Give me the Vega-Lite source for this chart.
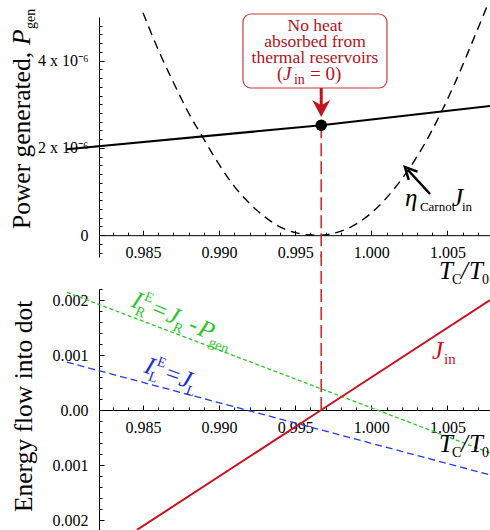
{
 "$schema": "https://vega.github.io/schema/vega-lite/v6.json",
 "padding": {"left": 10, "top": 0, "right": 0, "bottom": 0},
 "background": "white",
 "bounds": "flush",
 "spacing": 32,
 "config": {"view": {"stroke": null}, "text": {"font": "Liberation Serif"}, "axis": {"labelFont": "Liberation Serif", "labelFontSize": 16, "labelColor": "black", "domainColor": "black", "tickColor": "black", "domainWidth": 1, "tickWidth": 1, "grid": false, "labelFlush": false, "labelOverlap": false}},
 "vconcat": [
 {
  "width": 391, "height": 240,
  "encoding": {
   "x": {"field": "x", "type": "quantitative", "scale": {"domain": [0.98211, 1.0078], "nice": false, "zero": false}, "axis": null},
   "y": {"field": "y", "type": "quantitative", "scale": {"domain": [-5e-7, 5e-6], "nice": false, "zero": false}, "axis": null}
  },
  "resolve": {"axis": {"x": "independent", "y": "independent"}},
  "layer": [
   {
    "data": {"values": [{"x": 0.980, "y": 1.97e-6}, {"x": 0.99671, "y": 2.52e-6}, {"x": 1.0078, "y": 2.96e-6}]},
    "mark": {"type": "line", "color": "black", "strokeWidth": 2},
    "encoding": {
     "x": {"field": "x", "type": "quantitative", "scale": {"domain": [0.98211, 1.0078], "nice": false, "zero": false}, "axis": {"orient": "bottom", "offset": -21.82, "values": [0.985, 0.99, 0.995, 1, 1.005], "format": ".3f", "tickSize": -5, "labelPadding": 14, "title": null}},
     "y": {"field": "y", "type": "quantitative", "scale": {"domain": [-5e-7, 5e-6], "nice": false, "zero": false}, "axis": {"orient": "left", "values": [0, 2e-6, 4e-6], "labelExpr": "datum.value == 0 ? '0' : format(datum.value*1e6, 'd') + ' x 10⁻⁶'", "tickSize": -5, "labelPadding": 16, "title": null}}
    }
   },
   {
    "data": {"values": [
     {"x": 0.9850, "y": 5.10e-6}, {"x": 0.9860, "y": 4.25e-6}, {"x": 0.9870, "y": 3.50e-6}, {"x": 0.9880, "y": 2.80e-6},
     {"x": 0.9890, "y": 2.20e-6}, {"x": 0.9900, "y": 1.62e-6}, {"x": 0.9910, "y": 1.12e-6}, {"x": 0.9920, "y": 0.73e-6},
     {"x": 0.9930, "y": 0.42e-6}, {"x": 0.9940, "y": 0.19e-6}, {"x": 0.9950, "y": 0.06e-6}, {"x": 0.9958, "y": 0.01e-6},
     {"x": 0.9966, "y": 0.0}, {"x": 0.9975, "y": 0.04e-6}, {"x": 0.9985, "y": 0.16e-6}, {"x": 0.9995, "y": 0.37e-6},
     {"x": 1.0005, "y": 0.67e-6}, {"x": 1.0015, "y": 1.06e-6}, {"x": 1.0025, "y": 1.53e-6}, {"x": 1.0035, "y": 2.09e-6},
     {"x": 1.0045, "y": 2.75e-6}, {"x": 1.0055, "y": 3.49e-6}, {"x": 1.0065, "y": 4.31e-6}, {"x": 1.0072, "y": 4.90e-6},
     {"x": 1.0077, "y": 5.325e-6}
    ]},
    "mark": {"type": "line", "color": "black", "strokeWidth": 1.4, "strokeDash": [9, 6], "interpolate": "monotone"},
    "encoding": {
     "x": {"field": "x", "type": "quantitative", "scale": {"domain": [0.98211, 1.0078], "nice": false, "zero": false}, "axis": {"orient": "bottom", "offset": -21.82, "values": [0.983,0.984,0.985,0.986,0.987,0.988,0.989,0.99,0.991,0.992,0.993,0.994,0.995,0.996,0.997,0.998,0.999,1.0,1.001,1.002,1.003,1.004,1.005,1.006,1.007], "tickSize": -3, "labels": false, "domain": false, "title": null}},
     "y": {"field": "y", "type": "quantitative", "scale": {"domain": [-5e-7, 5e-6], "nice": false, "zero": false}, "axis": {"orient": "left", "values": [-4e-7,-2e-7,0,2e-7,4e-7,6e-7,8e-7,1e-6,1.2e-6,1.4e-6,1.6e-6,1.8e-6,2e-6,2.2e-6,2.4e-6,2.6e-6,2.8e-6,3e-6,3.2e-6,3.4e-6,3.6e-6,3.8e-6,4e-6,4.2e-6,4.4e-6,4.6e-6,4.8e-6], "tickSize": -3, "labels": false, "domain": false, "title": null}}
    }
   },
   {
    "data": {"values": [{"x": 0.99671, "y": 2.52e-6, "y2": -5e-7}]},
    "mark": {"type": "rule", "color": "#d42a2a", "strokeWidth": 1.6, "strokeDash": [13, 5]},
    "encoding": {"y2": {"field": "y2"}}
   },
   {
    "data": {"values": [{"x": 0.99671, "y": 2.52e-6}]},
    "mark": {"type": "point", "shape": "circle", "filled": true, "color": "black", "opacity": 1, "size": 133}
   },
   {
    "data": {"values": [{"x": 0.99157, "x2": 1.00103, "y": 5.069e-6, "y2": 3.373e-6}]},
    "mark": {"type": "rect", "fill": "white", "stroke": "#c83c3c", "strokeWidth": 1.2, "cornerRadius": 8},
    "encoding": {"x2": {"field": "x2"}, "y2": {"field": "y2"}}
   },
   {
    "data": {"values": [{"x": 0.9963, "y": 4.679e-6, "t": "No heat"}, {"x": 0.9963, "y": 4.313e-6, "t": "absorbed from"}, {"x": 0.9963, "y": 3.946e-6, "t": "thermal reservoirs"}]},
    "mark": {"type": "text", "font": "Liberation Serif", "fontSize": 17.5, "align": "center", "baseline": "alphabetic", "color": "#b3121a"},
    "encoding": {"text": {"field": "t"}}
   },
   {
    "data": {"values": [{"x": 0.9938, "y": 3.556e-6}]},
    "mark": {"type": "text", "text": "(", "font": "Liberation Serif", "fontSize": 18, "align": "left", "baseline": "alphabetic", "color": "#b3121a", "dx": 0}
   },
   {
    "data": {"values": [{"x": 0.9938, "y": 3.556e-6}]},
    "mark": {"type": "text", "text": "J", "font": "Liberation Serif", "fontStyle": "italic", "fontSize": 19, "align": "left", "baseline": "alphabetic", "color": "#b3121a", "dx": 6}
   },
   {
    "data": {"values": [{"x": 0.9938, "y": 3.556e-6}]},
    "mark": {"type": "text", "text": "in", "font": "Liberation Serif", "fontSize": 14, "align": "left", "baseline": "alphabetic", "color": "#b3121a", "dx": 17, "dy": 4}
   },
   {
    "data": {"values": [{"x": 0.9938, "y": 3.556e-6}]},
    "mark": {"type": "text", "text": "= 0)", "font": "Liberation Serif", "fontSize": 19, "align": "left", "baseline": "alphabetic", "color": "#b3121a", "dx": 33}
   },
   {
    "data": {"values": [{"x": 0.99671, "y": 3.373e-6, "y2": 2.87e-6}]},
    "mark": {"type": "rule", "color": "#c0141c", "strokeWidth": 3},
    "encoding": {"y2": {"field": "y2"}}
   },
   {
    "data": {"values": [{"x": 0.99671, "y": 2.915e-6}]},
    "mark": {"type": "point", "shape": "M0,1L-1,-0.9L0,-0.3L1,-0.9Z", "filled": true, "color": "#c0141c", "opacity": 1, "size": 324}
   },
   {
    "data": {"values": [{"x": 1.00386, "y": 0.944e-6, "x2": 1.00241, "y2": 1.494e-6}]},
    "mark": {"type": "rule", "color": "black", "strokeWidth": 2.5},
    "encoding": {"x2": {"field": "x2"}, "y2": {"field": "y2"}}
   },
   {
    "data": {"values": [{"x": 1.00248, "y": 1.462e-6}]},
    "mark": {"type": "point", "shape": "M-1,-1L0,1L1,-1", "filled": false, "color": "black", "strokeWidth": 2.5, "opacity": 1, "size": 144, "angle": 137}
   },
   {
    "data": {"values": [{"x": 1.00221, "y": 0.669e-6}]},
    "mark": {"type": "text", "text": "η", "font": "Liberation Serif", "fontStyle": "italic", "fontSize": 25, "align": "left", "baseline": "alphabetic", "color": "black", "dx": 0}
   },
   {
    "data": {"values": [{"x": 1.00221, "y": 0.669e-6}]},
    "mark": {"type": "text", "text": "Carnot", "font": "Liberation Serif", "fontSize": 13, "align": "left", "baseline": "alphabetic", "color": "black", "dx": 15, "dy": 5}
   },
   {
    "data": {"values": [{"x": 1.00221, "y": 0.669e-6}]},
    "mark": {"type": "text", "text": "J", "font": "Liberation Serif", "fontStyle": "italic", "fontSize": 25, "align": "left", "baseline": "alphabetic", "color": "black", "dx": 47}
   },
   {
    "data": {"values": [{"x": 1.00221, "y": 0.669e-6}]},
    "mark": {"type": "text", "text": "in", "font": "Liberation Serif", "fontSize": 13, "align": "left", "baseline": "alphabetic", "color": "black", "dx": 57, "dy": 5}
   },
   {
    "data": {"values": [{"x": 1.00445, "y": -1.004e-6}]},
    "mark": {"type": "text", "text": "T", "font": "Liberation Serif", "fontStyle": "italic", "fontSize": 25, "align": "left", "baseline": "alphabetic", "color": "black", "dx": 0}
   },
   {
    "data": {"values": [{"x": 1.00445, "y": -1.004e-6}]},
    "mark": {"type": "text", "text": "C", "font": "Liberation Serif", "fontSize": 14, "align": "left", "baseline": "alphabetic", "color": "black", "dx": 13, "dy": 5}
   },
   {
    "data": {"values": [{"x": 1.00445, "y": -1.004e-6}]},
    "mark": {"type": "text", "text": "/", "font": "Liberation Serif", "fontStyle": "italic", "fontSize": 25, "align": "left", "baseline": "alphabetic", "color": "black", "dx": 22}
   },
   {
    "data": {"values": [{"x": 1.00445, "y": -1.004e-6}]},
    "mark": {"type": "text", "text": "T", "font": "Liberation Serif", "fontStyle": "italic", "fontSize": 25, "align": "left", "baseline": "alphabetic", "color": "black", "dx": 30}
   },
   {
    "data": {"values": [{"x": 1.00445, "y": -1.004e-6}]},
    "mark": {"type": "text", "text": "0", "font": "Liberation Serif", "fontSize": 14, "align": "left", "baseline": "alphabetic", "color": "black", "dx": 43, "dy": 5}
   },
   {
    "data": {"values": [{"x": 0.97758, "y": 0.142e-6}]},
    "mark": {"type": "text", "text": "Power generated, ", "font": "Liberation Serif", "fontSize": 25.5, "align": "left", "baseline": "alphabetic", "color": "black", "angle": 270, "dx": 0}
   },
   {
    "data": {"values": [{"x": 0.97758, "y": 0.142e-6}]},
    "mark": {"type": "text", "text": "P", "font": "Liberation Serif", "fontStyle": "italic", "fontSize": 25.5, "align": "left", "baseline": "alphabetic", "color": "black", "angle": 270, "dx": 184}
   },
   {
    "data": {"values": [{"x": 0.97758, "y": 0.142e-6}]},
    "mark": {"type": "text", "text": "gen", "font": "Liberation Serif", "fontSize": 14, "align": "left", "baseline": "alphabetic", "color": "black", "angle": 270, "dx": 200, "dy": 5}
   }
  ]
 },
 {
  "width": 391, "height": 242,
  "encoding": {
   "x": {"field": "x", "type": "quantitative", "scale": {"domain": [0.98211, 1.0078], "nice": false, "zero": false}, "axis": null},
   "y": {"field": "y", "type": "quantitative", "scale": {"domain": [-0.0022, 0.0022], "nice": false, "zero": false}, "axis": null}
  },
  "resolve": {"axis": {"x": "independent", "y": "independent"}},
  "layer": [
   {
    "data": {"values": [{"x": 0.980, "y": 0.00214}, {"x": 0.990, "y": 0.00109}, {"x": 1.000, "y": 0.00004}, {"x": 1.0078, "y": -0.00078}]},
    "mark": {"type": "line", "color": "#2cc52c", "strokeWidth": 1.3, "strokeDash": [4, 2.5]},
    "encoding": {
     "x": {"field": "x", "type": "quantitative", "scale": {"domain": [0.98211, 1.0078], "nice": false, "zero": false}, "axis": {"orient": "bottom", "offset": -121, "values": [0.985, 0.99, 0.995, 1, 1.005], "format": ".3f", "tickSize": -5, "labelPadding": 14, "title": null}},
     "y": {"field": "y", "type": "quantitative", "scale": {"domain": [-0.0022, 0.0022], "nice": false, "zero": false}, "axis": {"orient": "left", "values": [-0.002, -0.001, 0, 0.001, 0.002], "labelExpr": "datum.value == 0 ? '0.00' : format(abs(datum.value), '.3f')", "tickSize": -5, "labelPadding": 16, "title": null}}
    }
   },
   {
    "data": {"values": [{"x": 0.980, "y": 0.00087}, {"x": 0.9918, "y": 0.0}, {"x": 1.0078, "y": -0.00118}]},
    "mark": {"type": "line", "color": "#2038f0", "strokeWidth": 1.3, "strokeDash": [7, 4]},
    "encoding": {
     "x": {"field": "x", "type": "quantitative", "scale": {"domain": [0.98211, 1.0078], "nice": false, "zero": false}, "axis": {"orient": "bottom", "offset": -121, "values": [0.983,0.984,0.985,0.986,0.987,0.988,0.989,0.99,0.991,0.992,0.993,0.994,0.995,0.996,0.997,0.998,0.999,1.0,1.001,1.002,1.003,1.004,1.005,1.006,1.007], "tickSize": -3, "labels": false, "domain": false, "title": null}},
     "y": {"field": "y", "type": "quantitative", "scale": {"domain": [-0.0022, 0.0022], "nice": false, "zero": false}, "axis": {"orient": "left", "values": [-0.0022,-0.002,-0.0018,-0.0016,-0.0014,-0.0012,-0.001,-0.0008,-0.0006,-0.0004,-0.0002,0,0.0002,0.0004,0.0006,0.0008,0.001,0.0012,0.0014,0.0016,0.0018,0.002,0.0022], "tickSize": -3, "labels": false, "domain": false, "title": null}}
    }
   },
   {
    "data": {"values": [{"x": 0.9846, "y": -0.00218}, {"x": 0.99671, "y": 0.0}, {"x": 1.0078, "y": 0.002}]},
    "mark": {"type": "line", "color": "#cc1122", "strokeWidth": 2}
   },
   {
    "data": {"values": [{"x": 0.99671, "y": 0.0, "y2": 0.00282}]},
    "mark": {"type": "rule", "color": "#d42a2a", "strokeWidth": 1.6, "strokeDash": [13, 5]},
    "encoding": {"y2": {"field": "y2"}}
   },
   {"data": {"values": [{"x": 0.98415, "y": 0.001891}]}, "mark": {"type": "text", "text": "I", "fontStyle": "italic", "fontSize": 25, "align": "left", "baseline": "alphabetic", "color": "#2cc52c", "angle": 23, "dx": 0}},
   {"data": {"values": [{"x": 0.98415, "y": 0.001891}]}, "mark": {"type": "text", "text": "E", "fontSize": 14, "align": "left", "baseline": "alphabetic", "color": "#2cc52c", "angle": 23, "dx": 10, "dy": -11}},
   {"data": {"values": [{"x": 0.98415, "y": 0.001891}]}, "mark": {"type": "text", "text": "R", "fontSize": 14, "align": "left", "baseline": "alphabetic", "color": "#2cc52c", "angle": 23, "dx": 7, "dy": 6}},
   {"data": {"values": [{"x": 0.98415, "y": 0.001891}]}, "mark": {"type": "text", "text": "=", "fontSize": 25, "align": "left", "baseline": "alphabetic", "color": "#2cc52c", "angle": 23, "dx": 22}},
   {"data": {"values": [{"x": 0.98415, "y": 0.001891}]}, "mark": {"type": "text", "text": "J", "fontStyle": "italic", "fontSize": 25, "align": "left", "baseline": "alphabetic", "color": "#2cc52c", "angle": 23, "dx": 38}},
   {"data": {"values": [{"x": 0.98415, "y": 0.001891}]}, "mark": {"type": "text", "text": "R", "fontSize": 14, "align": "left", "baseline": "alphabetic", "color": "#2cc52c", "angle": 23, "dx": 48, "dy": 6}},
   {"data": {"values": [{"x": 0.98415, "y": 0.001891}]}, "mark": {"type": "text", "text": "-", "fontSize": 25, "align": "left", "baseline": "alphabetic", "color": "#2cc52c", "angle": 23, "dx": 62}},
   {"data": {"values": [{"x": 0.98415, "y": 0.001891}]}, "mark": {"type": "text", "text": "P", "fontStyle": "italic", "fontSize": 25, "align": "left", "baseline": "alphabetic", "color": "#2cc52c", "angle": 23, "dx": 72}},
   {"data": {"values": [{"x": 0.98415, "y": 0.001891}]}, "mark": {"type": "text", "text": "gen", "fontSize": 14, "align": "left", "baseline": "alphabetic", "color": "#2cc52c", "angle": 23, "dx": 87, "dy": 6}},
   {"data": {"values": [{"x": 0.985, "y": 0.000691}]}, "mark": {"type": "text", "text": "I", "fontStyle": "italic", "fontSize": 25, "align": "left", "baseline": "alphabetic", "color": "#1c2fd6", "angle": 20, "dx": 0}},
   {"data": {"values": [{"x": 0.985, "y": 0.000691}]}, "mark": {"type": "text", "text": "E", "fontSize": 14, "align": "left", "baseline": "alphabetic", "color": "#1c2fd6", "angle": 20, "dx": 10, "dy": -11}},
   {"data": {"values": [{"x": 0.985, "y": 0.000691}]}, "mark": {"type": "text", "text": "L", "fontSize": 14, "align": "left", "baseline": "alphabetic", "color": "#1c2fd6", "angle": 20, "dx": 7, "dy": 6}},
   {"data": {"values": [{"x": 0.985, "y": 0.000691}]}, "mark": {"type": "text", "text": "=", "fontSize": 25, "align": "left", "baseline": "alphabetic", "color": "#1c2fd6", "angle": 20, "dx": 22}},
   {"data": {"values": [{"x": 0.985, "y": 0.000691}]}, "mark": {"type": "text", "text": "J", "fontStyle": "italic", "fontSize": 25, "align": "left", "baseline": "alphabetic", "color": "#1c2fd6", "angle": 20, "dx": 37}},
   {"data": {"values": [{"x": 0.985, "y": 0.000691}]}, "mark": {"type": "text", "text": "L", "fontSize": 14, "align": "left", "baseline": "alphabetic", "color": "#1c2fd6", "angle": 20, "dx": 47, "dy": 6}},
   {"data": {"values": [{"x": 1.00399, "y": 0.000927}]}, "mark": {"type": "text", "text": "J", "fontStyle": "italic", "fontSize": 25, "align": "left", "baseline": "alphabetic", "color": "#cc1122", "dx": 0}},
   {"data": {"values": [{"x": 1.00399, "y": 0.000927}]}, "mark": {"type": "text", "text": "in", "fontSize": 15, "align": "left", "baseline": "alphabetic", "color": "#cc1122", "dx": 12, "dy": 5}},
   {"data": {"values": [{"x": 1.00445, "y": -0.000764}]}, "mark": {"type": "text", "text": "T", "fontStyle": "italic", "fontSize": 25, "align": "left", "baseline": "alphabetic", "color": "black", "dx": 0}},
   {"data": {"values": [{"x": 1.00445, "y": -0.000764}]}, "mark": {"type": "text", "text": "C", "fontSize": 14, "align": "left", "baseline": "alphabetic", "color": "black", "dx": 13, "dy": 5}},
   {"data": {"values": [{"x": 1.00445, "y": -0.000764}]}, "mark": {"type": "text", "text": "/", "fontStyle": "italic", "fontSize": 25, "align": "left", "baseline": "alphabetic", "color": "black", "dx": 22}},
   {"data": {"values": [{"x": 1.00445, "y": -0.000764}]}, "mark": {"type": "text", "text": "T", "fontStyle": "italic", "fontSize": 25, "align": "left", "baseline": "alphabetic", "color": "black", "dx": 30}},
   {"data": {"values": [{"x": 1.00445, "y": -0.000764}]}, "mark": {"type": "text", "text": "0", "fontSize": 14, "align": "left", "baseline": "alphabetic", "color": "black", "dx": 43, "dy": 5}},
   {"data": {"values": [{"x": 0.97771, "y": -0.001855}]}, "mark": {"type": "text", "text": "Energy flow into dot", "fontSize": 25.5, "align": "left", "baseline": "alphabetic", "color": "black", "angle": 270, "dx": 0}}
  ]
 }
 ]
}
